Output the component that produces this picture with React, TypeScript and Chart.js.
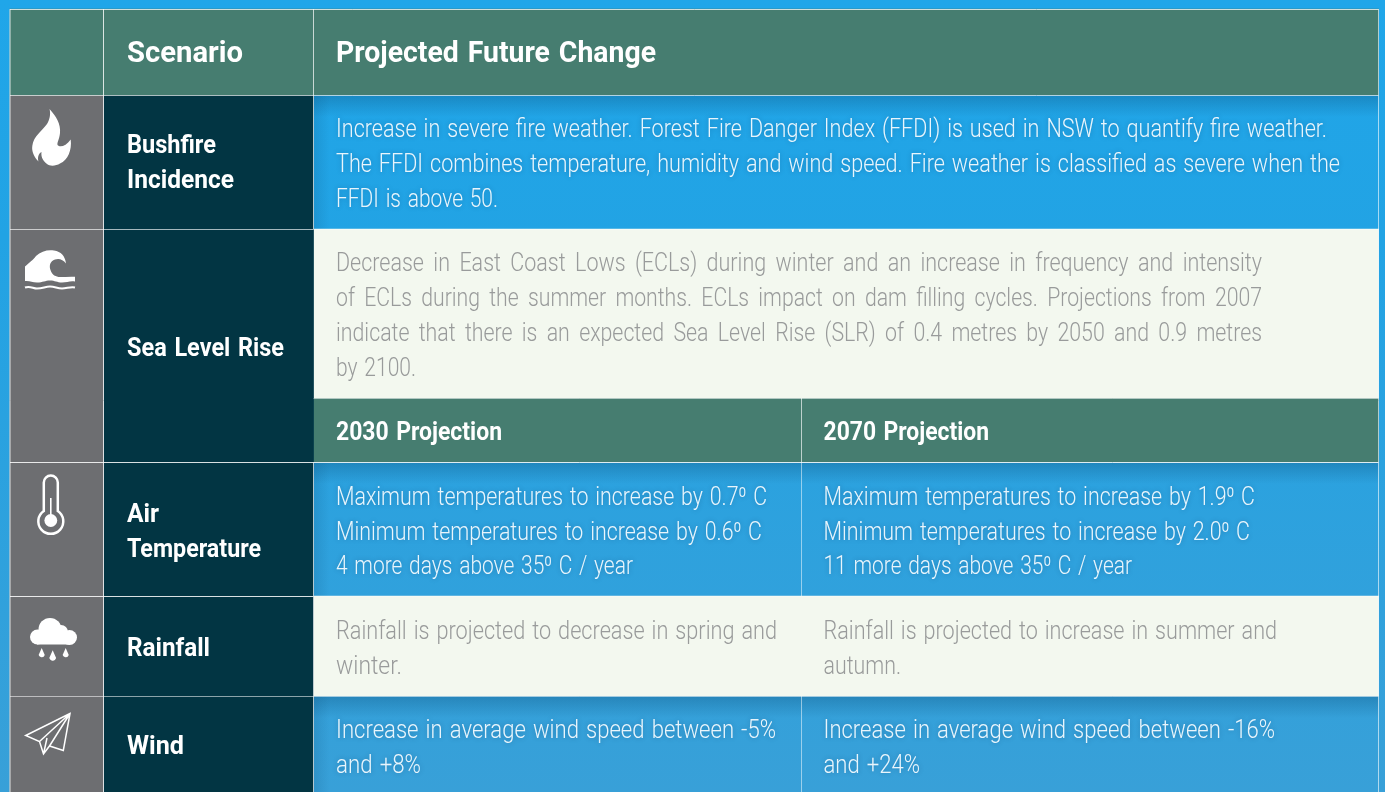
import React, { useEffect, useRef } from "react";
import { Chart, registerables } from "chart.js";

Chart.register(...registerables);

// ---------- content ----------
const headerLabels = ["Scenario", "Projected Future Change"];
const projectionLabels = ["2030 Projection", "2070 Projection"];
const scenarioBushfire = ["Bushfire", "Incidence"];
const scenarioSea = ["Sea Level Rise"];
const scenarioAir = ["Air", "Temperature"];
const scenarioRain = ["Rainfall"];
const scenarioWind = ["Wind"];
const bushfireText = [
  "Increase in severe fire weather. Forest Fire Danger Index (FFDI) is used in NSW to quantify fire weather.",
  "The FFDI combines temperature, humidity and wind speed. Fire weather is classified as severe when the",
  "FFDI is above 50.",
];
const seaText = [
  "Decrease in East Coast Lows (ECLs) during winter and an increase in frequency and intensity",
  "of ECLs during the summer months. ECLs impact on dam filling cycles. Projections from 2007",
  "indicate that there is an expected Sea Level Rise (SLR) of 0.4 metres by 2050 and 0.9 metres",
  "by 2100.",
];
const air2030 = [
  "Maximum temperatures to increase by 0.7\u2070 C",
  "Minimum temperatures to increase by 0.6\u2070 C",
  "4 more days above 35\u2070 C / year",
];
const air2070 = [
  "Maximum temperatures to increase by 1.9\u2070 C",
  "Minimum temperatures to increase by 2.0\u2070 C",
  "11 more days above 35\u2070 C / year",
];
const rain2030 = ["Rainfall is projected to decrease in spring and", "winter."];
const rain2070 = ["Rainfall is projected to increase in summer and", "autumn."];
const wind2030 = ["Increase in average wind speed between -5%", "and +8%"];
const wind2070 = ["Increase in average wind speed between -16%", "and +24%"];

// ---------- layout and style ----------
const W = 1385;
const H = 792;
const GREEN = "#467d70";
const GRAY = "#6d6e71";
const DARK = "#023543";
const PALE = "#f3f8ef";
const LIGHT_TEXT = "#e9f5fc";
const GRAY_TEXT = "#999b9b";
const L = 10, C1 = 103.5, C2 = 313.5, C3 = 801.5, R = 1378.5;
const Y0 = 9, Y1 = 95, Y2 = 229, Y3 = 398, Y4 = 462, Y5 = 596, Y6 = 696;

const cells: [number, number, number, number, string][] = [
  [L, R, Y0, Y1, GREEN],
  [L, C1, Y1, H, GRAY],
  [C1, C2, Y1, H, DARK],
  [C2, R, Y2, Y3, PALE],
  [C2, R, Y3, Y4, GREEN],
  [C2, R, Y5, Y6, PALE],
];

const hLines: [number, number, number, number][] = [
  [L, R, Y0, 0.75], [L, R, Y1, 0.65], [L, C2, Y2, 0.65], [L, C2, Y4, 0.85], [C2, R, Y3, 0.45],
  [C2, R, Y4, 0.85], [L, C2, Y5, 0.85], [C2, R, Y5, 0.3], [L, C2, Y6, 0.55], [C2, R, Y6, 0.45], [C2, R, Y2, 0.4],
];
const vLines: [number, number, number, number][] = [
  [L, Y0, H, 0.8], [C1, Y0, H, 0.8], [C2, Y0, Y2, 0.7], [C2, Y4, H, 0.7], [C3, Y3, Y4, 0.65],
  [C3, Y4, Y5, 0.5], [C3, Y6, H, 0.5], [R, Y0, H, 0.6],
];
const shadeZones: [number, number, number, number][] = [
  [C2, R, Y1, Y2], [C2, R, Y4, Y5], [C2, R, Y6, H],
];

const BODY_FONT = '300 26px Roboto, "Liberation Sans Narrow", sans-serif';
const BOLD_FONT = '700 30px Roboto, "Liberation Sans Narrow", sans-serif';
const MED_FONT = '700 25.5px Roboto, "Liberation Sans Narrow", sans-serif';

function icons(ctx: CanvasRenderingContext2D) {
  ctx.save();
  ctx.fillStyle = "#fff";
  ctx.strokeStyle = "#fff";
  ctx.fill(new Path2D("M49.5 109C56 116 61 124 60 133C59.5 139 57 142 57.5 145C60 148 66 146 70.7 139.5C72 150 68 160 60 163.5C56 166 50 166.5 47 164C42 160 41 156 41.5 152C38 154 37.5 158 38.5 161.5C34 157 31.5 151 32.3 146C33.5 136 42 131 47 124C49.5 120 51 114 49.5 109Z"));
  // wave
  ctx.fill(new Path2D("M25 281V266.5C30 262 33 260 36 256C41 251 48 249.5 54 250.5C61 251.5 65 256 66 263.5C63 259.5 59 258 55 259.5C50 261 49 266 50.5 270C52 275 56 277 60 277C65 277 70 276.5 75 276.8V281.5C70 280.5 67 282.5 62 282.5C57 282.5 55 280.5 50 280.5C45 280.5 43 282.5 37 282.5C32 282.5 30 280.5 25 281Z"));
  ctx.lineWidth = 2;
  ctx.stroke(new Path2D("M25 287.5C30 285.5 33 288.5 37 288.5C43 288.5 45 286.5 50 286.5C55 286.5 57 288.5 62 288.5C67 288.5 70 286.5 75 287.5"));
  // thermometer
  ctx.lineWidth = 2.5;
  ctx.stroke(new Path2D("M43.8 511V482.5A7 7 0 0 1 57.8 482.5V511A12.5 12.5 0 1 1 43.8 511Z"));
  ctx.beginPath(); ctx.arc(50.8, 520.5, 6.4, 0, Math.PI * 2); ctx.fill();
  ctx.lineWidth = 1.6;
  ctx.beginPath(); ctx.moveTo(50.8, 498); ctx.lineTo(50.8, 516); ctx.stroke();
  // cloud
  ctx.beginPath(); ctx.arc(50, 629.5, 11.5, 0, Math.PI * 2); ctx.fill();
  ctx.beginPath(); ctx.arc(37.5, 637, 7.5, 0, Math.PI * 2); ctx.fill();
  ctx.beginPath(); ctx.arc(69.5, 637.5, 7.5, 0, Math.PI * 2); ctx.fill();
  ctx.beginPath(); ctx.arc(61, 632, 7, 0, Math.PI * 2); ctx.fill();
  ctx.fillRect(37, 632, 32, 12.5);
  ([[41.7, 654, 3.2], [52.7, 657, 3.6], [65.7, 654, 3.2]] as number[][]).forEach(([x, y, r]) => {
    ctx.beginPath();
    ctx.arc(x, y, r, 0.1 * Math.PI, 0.9 * Math.PI);
    ctx.lineTo(x, y - r * 1.9);
    ctx.closePath();
    ctx.fill();
  });
  // plane
  ctx.lineWidth = 1.5;
  ctx.lineJoin = "miter";
  ctx.stroke(new Path2D("M70 713.5L25.7 735.5L39.5 741.5L43.5 754L49.5 746L63.3 750.5L70 713.5ZM70 713.5L39.5 741.5M70 713.5L49.5 746M43.5 754L47 738"));
  ctx.restore();
}

const tablePlugin = {
  id: "tableText",
  beforeDraw(chart: any) {
    const { ctx, scales } = chart;
    const g = ctx.createLinearGradient(0, 0, 0, H);
    g.addColorStop(0, "#20a6e9");
    g.addColorStop(0.3, "#22a3e4");
    g.addColorStop(1, "#38a0d8");
    ctx.save();
    ctx.fillStyle = g;
    ctx.fillRect(0, 0, W, H);
    shadeZones.forEach(([a, b, c, d]) => {
      const x0 = scales.x.getPixelForValue(a);
      const x1 = scales.x.getPixelForValue(b);
      const y0 = scales.y.getPixelForValue(c);
      const y1 = scales.y.getPixelForValue(d);
      const s = ctx.createLinearGradient(0, y0, 0, y0 + 22);
      s.addColorStop(0, "rgba(8,70,110,0.30)");
      s.addColorStop(1, "rgba(8,70,110,0)");
      ctx.fillStyle = s;
      ctx.fillRect(x0, y0, x1 - x0, Math.min(22, y1 - y0));
      const t = ctx.createLinearGradient(x0, 0, x0 + 16, 0);
      t.addColorStop(0, "rgba(8,70,110,0.16)");
      t.addColorStop(1, "rgba(8,70,110,0)");
      ctx.fillStyle = t;
      ctx.fillRect(x0, y0, 16, y1 - y0);
    });
    ctx.restore();
  },
  afterDatasetsDraw(chart: any) {
    const { ctx, scales } = chart;
    const px = (v: number) => scales.x.getPixelForValue(v);
    const py = (v: number) => scales.y.getPixelForValue(v);
    ctx.save();
    ctx.lineWidth = 1;
    hLines.forEach(([a, b, y, o]) => {
      ctx.strokeStyle = `rgba(255,255,255,${o})`;
      ctx.beginPath();
      ctx.moveTo(px(a), py(y) + 0.5);
      ctx.lineTo(px(b), py(y) + 0.5);
      ctx.stroke();
    });
    vLines.forEach(([x, a, b, o]) => {
      ctx.strokeStyle = `rgba(255,255,255,${o})`;
      ctx.beginPath();
      ctx.moveTo(px(x), py(a));
      ctx.lineTo(px(x), py(b));
      ctx.stroke();
    });
    icons(ctx);

    ctx.textBaseline = "alphabetic";
    ctx.textAlign = "left";

    const put = (
      lines: string[], x: number, first: number, step: number, font: string,
      rights: number[], color: string, shadow: boolean, gap = 0, lastGap = gap,
    ) => {
      ctx.font = font;
      ctx.fillStyle = color;
      ctx.shadowColor = shadow ? "rgba(0,40,80,0.28)" : "transparent";
      ctx.shadowBlur = shadow ? 5 : 0;
      lines.forEach((s, i) => {
        const target = rights[i] - x;
        (ctx as any).wordSpacing = `${i < lines.length - 1 ? gap : lastGap}px`;
        const w = ctx.measureText(s).width;
        if (w > target) {
          ctx.fillText(s, px(x), py(first + i * step), target);
        } else {
          (ctx as any).letterSpacing = `${(target - w) / s.length}px`;
          ctx.fillText(s, px(x), py(first + i * step));
          (ctx as any).letterSpacing = "0px";
        }
      });
      (ctx as any).wordSpacing = "0px";
      ctx.shadowBlur = 0;
      ctx.shadowColor = "transparent";
    };

    const T1 = 127, T2 = 336, T3 = 823.5;
    put([headerLabels[0]], T1, 61.5, 35, BOLD_FONT, [243], "#ffffff", false);
    put([headerLabels[1]], T2, 61.5, 35, BOLD_FONT, [656], "#ffffff", false, 2);
    put(scenarioBushfire, T1, 153, 35, MED_FONT, [216, 234], "#ffffff", false);
    put(scenarioSea, T1, 356, 35, MED_FONT, [284], "#ffffff", false, 2);
    put(scenarioAir, T1, 522, 35, MED_FONT, [159, 261], "#ffffff", false);
    put(scenarioRain, T1, 656, 35, MED_FONT, [210], "#ffffff", false);
    put(scenarioWind, T1, 754, 35, MED_FONT, [184], "#ffffff", false);
    put([projectionLabels[0]], T2, 439.5, 35, MED_FONT, [502], "#ffffff", false, 2);
    put([projectionLabels[1]], T3, 439.5, 35, MED_FONT, [989], "#ffffff", false, 2);
    put(bushfireText, T2, 137, 35, BODY_FONT, [1327, 1340, 498], LIGHT_TEXT, true, 2);
    put(seaText, T2, 271, 35, BODY_FONT, [1262, 1262, 1262, 416], GRAY_TEXT, false, 5, 2);
    put(air2030, T2, 505, 34.5, BODY_FONT, [767, 762, 633], LIGHT_TEXT, true, 2);
    put(air2070, T3, 505, 34.5, BODY_FONT, [1255, 1250, 1132], LIGHT_TEXT, true, 2);
    put(rain2030, T2, 639, 34.5, BODY_FONT, [777, 402], GRAY_TEXT, false, 2);
    put(rain2070, T3, 639, 34.5, BODY_FONT, [1277, 901], GRAY_TEXT, false, 2);
    put(wind2030, T2, 738, 35, BODY_FONT, [776, 421], LIGHT_TEXT, true, 2);
    put(wind2070, T3, 738, 35, BODY_FONT, [1275, 920], LIGHT_TEXT, true, 2);
    ctx.restore();
  },
};

export default function App() {
  const ref = useRef<HTMLCanvasElement | null>(null);
  useEffect(() => {
    if (!ref.current) return;
    const chart = new Chart(ref.current, {
      type: "bar",
      data: {
        datasets: cells.map(([x0, x1, y0, y1, color]) => ({
          data: [{ x: [x0, x1], y: (y0 + y1) / 2 }],
          barThickness: y1 - y0,
          backgroundColor: color,
          borderWidth: 0,
          grouped: false,
        })) as any,
      },
      options: {
        indexAxis: "y",
        animation: false,
        responsive: false,
        layout: { padding: 0 },
        plugins: { legend: { display: false }, tooltip: { enabled: false } },
        scales: {
          x: { type: "linear", min: 0, max: W, display: false, offset: false },
          y: { type: "linear", min: 0, max: H, reverse: true, display: false, offset: false },
        },
      } as any,
      plugins: [tablePlugin],
    });
    return () => chart.destroy();
  }, []);
  return (
    <canvas
      ref={ref}
      width={W}
      height={H}
      style={{ position: "absolute", left: 0, top: 0, width: W, height: H, display: "block" }}
    />
  );
}
